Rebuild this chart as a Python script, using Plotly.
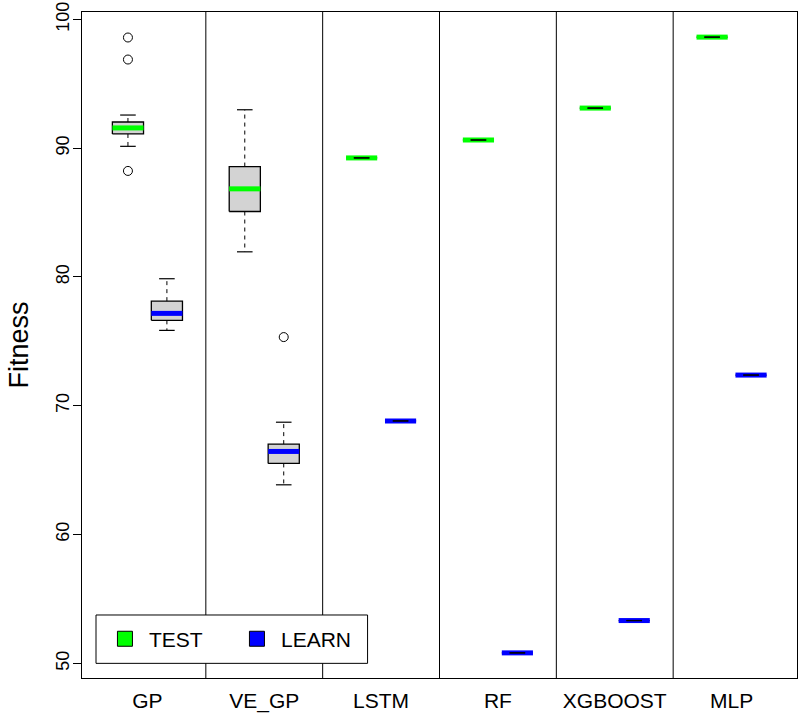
import plotly.graph_objects as go

# ---------------- data ----------------
models = ["GP", "VE_GP", "LSTM", "RF", "XGBOOST", "MLP"]

test_low = [90.14, 81.95, 89.24, 90.63, 93.11, 98.62]
test_q1 = [91.10, 85.08, 89.24, 90.63, 93.11, 98.62]
test_med = [91.57, 86.84, 89.24, 90.63, 93.11, 98.62]
test_q3 = [92.03, 88.57, 89.24, 90.63, 93.11, 98.62]
test_high = [92.57, 92.98, 89.24, 90.63, 93.11, 98.62]
test_out = [[98.59, 96.88, 88.23], [], [], [], [], []]

learn_low = [75.85, 63.86, 68.82, 50.81, 53.32, 72.38]
learn_q1 = [76.63, 65.52, 68.82, 50.81, 53.32, 72.38]
learn_med = [77.17, 66.45, 68.82, 50.81, 53.32, 72.38]
learn_q3 = [78.12, 67.02, 68.82, 50.81, 53.32, 72.38]
learn_high = [79.86, 68.72, 68.82, 50.81, 53.32, 72.38]
learn_out = [[], [75.33], [], [], [], []]

y_ticks = [50, 60, 70, 80, 90, 100]

# ---------------- styling ----------------
TEST_COLOR = "#00FF00"
LEARN_COLOR = "#0000FF"
BOX_FILL = "#D3D3D3"
HALF = 0.4      # half box width
STAPLE = 0.2    # half staple width
FONT = "Liberation Sans, Arial, Helvetica, sans-serif"

fig = go.Figure()


def add_box(pos, lo, q1, med, q3, hi, outs, mcolor):
    # box body
    fig.add_trace(go.Scatter(
        x=[pos - HALF, pos + HALF, pos + HALF, pos - HALF, pos - HALF],
        y=[q1, q1, q3, q3, q1],
        mode="lines", fill="toself", fillcolor=BOX_FILL,
        line=dict(color="black", width=1.3),
        showlegend=False, hoverinfo="skip"))
    # median
    fig.add_trace(go.Scatter(
        x=[pos - HALF, pos + HALF], y=[med, med], mode="lines",
        line=dict(color=mcolor, width=5),
        showlegend=False, hoverinfo="skip"))
    # whiskers (dashed)
    fig.add_trace(go.Scatter(
        x=[pos, pos, None, pos, pos], y=[q3, hi, None, q1, lo], mode="lines",
        line=dict(color="black", width=1, dash="4px,4px"),
        showlegend=False, hoverinfo="skip"))
    # staples
    fig.add_trace(go.Scatter(
        x=[pos - STAPLE, pos + STAPLE, None, pos - STAPLE, pos + STAPLE],
        y=[hi, hi, None, lo, lo], mode="lines",
        line=dict(color="black", width=1.2),
        showlegend=False, hoverinfo="skip"))
    # outliers
    if outs:
        fig.add_trace(go.Scatter(
            x=[pos] * len(outs), y=outs, mode="markers",
            marker=dict(symbol="circle-open", size=9, color="black",
                        line=dict(width=1)),
            showlegend=False, hoverinfo="skip"))


for i, m in enumerate(models):
    base = 3 * i + 1
    add_box(base, test_low[i], test_q1[i], test_med[i], test_q3[i],
            test_high[i], test_out[i], TEST_COLOR)
    add_box(base + 1, learn_low[i], learn_q1[i], learn_med[i], learn_q3[i],
            learn_high[i], learn_out[i], LEARN_COLOR)

# legend entries
for name, col in [("TEST", TEST_COLOR), ("LEARN", LEARN_COLOR)]:
    fig.add_trace(go.Scatter(
        x=[None], y=[None], mode="markers", name=name,
        marker=dict(symbol="square", size=15, color=col,
                    line=dict(color="black", width=1))))

# group separators
for k in range(1, len(models)):
    fig.add_shape(type="line", xref="x", yref="paper",
                  x0=3 * k, x1=3 * k, y0=0, y1=1,
                  line=dict(color="black", width=1))

# legend frame
fig.add_shape(type="rect", xref="paper", yref="paper",
              x0=0.0196, x1=0.3994, y0=0.022, y1=0.0946,
              line=dict(color="black", width=1), fillcolor="white",
              layer="above")

fig.update_layout(
    width=800, height=715,
    margin=dict(l=82, r=2, t=12, b=35),
    paper_bgcolor="white", plot_bgcolor="white",
    font=dict(family=FONT, color="black"),
    showlegend=True,
    legend=dict(orientation="h", x=0.0265, y=0.0584,
                xanchor="left", yanchor="middle",
                borderwidth=0, bgcolor="rgba(0,0,0,0)",
                font=dict(size=21, family=FONT),
                itemwidth=38,
                entrywidth=79, entrywidthmode="pixels"),
    xaxis=dict(range=[-0.18, 18.18],
               tickvals=[3 * i + 1.5 for i in range(len(models))],
               ticktext=models, tickfont=dict(size=21),
               showgrid=False, zeroline=False,
               showline=True, linecolor="black", linewidth=1, mirror=True,
               ticks="", ticklabelstandoff=4),
    yaxis=dict(range=[48.86, 100.57], tickvals=y_ticks,
               tickfont=dict(size=18), tickangle=-90,
               ticklabelstandoff=-3,
               title=dict(text="Fitness", font=dict(size=27), standoff=16),
               showgrid=False, zeroline=False,
               showline=True, linecolor="black", linewidth=1, mirror=True,
               ticks="outside", ticklen=8, tickcolor="black"),
)

fig.write_html("out.html")
